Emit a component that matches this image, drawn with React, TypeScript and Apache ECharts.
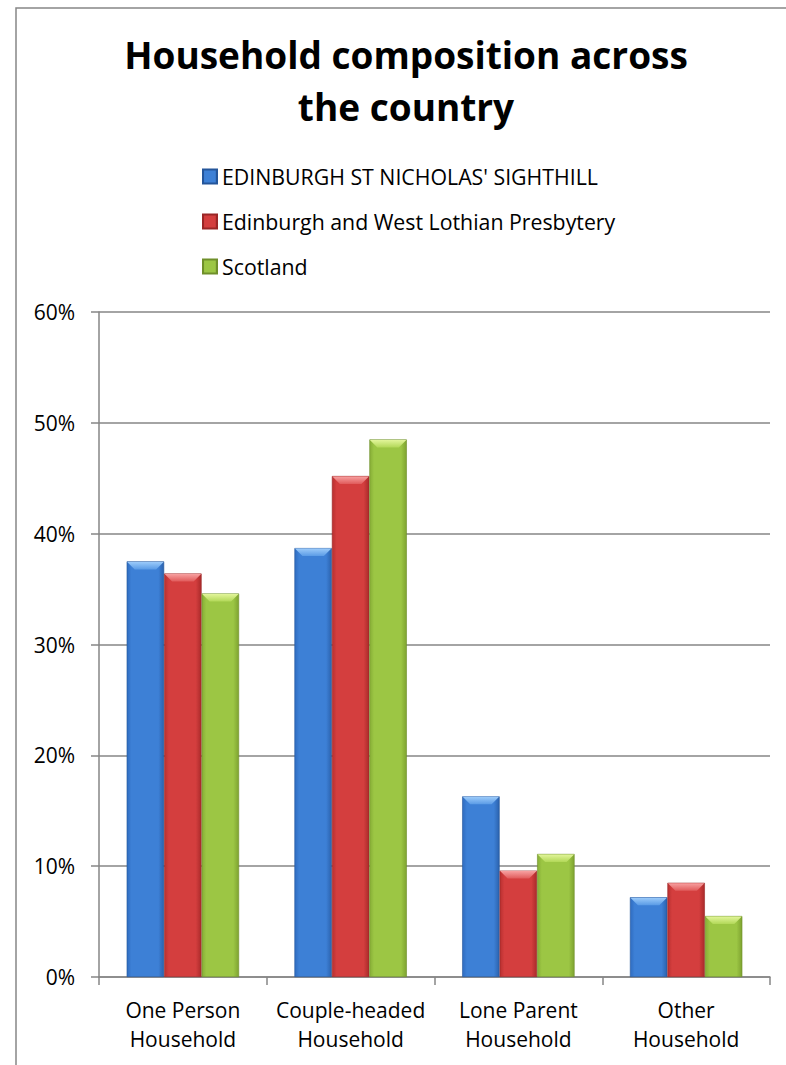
import React, { useEffect, useRef } from "react";
import * as echarts from "echarts";

const categories = ["One Person\nHousehold", "Couple-headed\nHousehold", "Lone Parent\nHousehold", "Other\nHousehold"];
const seriesNames = ["EDINBURGH ST NICHOLAS' SIGHTHILL", "Edinburgh and West Lothian Presbytery", "Scotland"];
const sighthill = [0.375, 0.387, 0.163, 0.072];
const presbytery = [0.364, 0.452, 0.096, 0.085];
const scotland = [0.346, 0.485, 0.111, 0.055];

const FONT = "'Open Sans', 'Noto Sans', sans-serif";
const CAT_GAP = 0.33;

const grad = (edge: string, mid: string, edge2: string) =>
  new echarts.graphic.LinearGradient(0, 0, 1, 0, [
    { offset: 0, color: edge },
    { offset: 0.12, color: mid },
    { offset: 0.85, color: mid },
    { offset: 1, color: edge2 },
  ]);

export default function App() {
  const ref = useRef<HTMLDivElement>(null);
  useEffect(() => {
    if (!ref.current) return;
    const chart = echarts.init(ref.current, null, { renderer: "svg" });
    const colors = [
      { fill: grad("#2f6cc0", "#3d80d6", "#2b62ad"), border: "#24559a", legend: "#3d80d6", top1: "#9ccbfa", top2: "#5a9be6" },
      { fill: grad("#b83030", "#d43e3e", "#a92a2a"), border: "#9a2626", legend: "#d43e3e", top1: "#f7a0a0", top2: "#e05a5a" },
      { fill: grad("#86ad36", "#9cc644", "#7ea330"), border: "#6f8f2a", legend: "#9cc644", top1: "#e2f59a", top2: "#b2d858" },
    ];
    const data = [sighthill, presbytery, scotland];

    const bevelSeries = data.map((vals, s) => ({
      type: "custom",
      silent: true,
      z: 5,
      data: vals.map((v, i) => [i, v]),
      encode: { x: 0, y: 1 },
      renderItem: (params: any, api: any) => {
        const idx = api.value(0);
        const val = api.value(1);
        const pt = api.coord([idx, val]);
        const band = api.size([1, 0])[0];
        const bw = (band * (1 - CAT_GAP)) / 3;
        const left = pt[0] - 1.5 * bw + s * bw;
        const right = left + bw;
        const y = pt[1];
        const b = 8;
        return {
          type: "polygon",
          shape: {
            points: [
              [left + 0.5, y + 0.5],
              [right - 0.5, y + 0.5],
              [right - b, y + b],
              [left + b, y + b],
            ],
          },
          style: {
            fill: new echarts.graphic.LinearGradient(0, 0, 0, 1, [
              { offset: 0, color: colors[s].top1 },
              { offset: 1, color: colors[s].top2 },
            ]),
          },
        };
      },
    }));

    chart.setOption({
      animation: false,
      textStyle: { fontFamily: FONT },
      title: {
        text: "Household composition across\nthe country",
        left: 401,
        top: 23,
        textAlign: "center",
        textStyle: { fontFamily: FONT, fontWeight: "bold", fontSize: 37, lineHeight: 52, color: "#000" },
      },
      legend: {
        orient: "vertical",
        left: 202,
        top: 164,
        padding: 0,
        itemWidth: 14,
        itemHeight: 14,
        itemGap: 20,
        icon: "rect",
        data: seriesNames,
        textStyle: { fontFamily: FONT, fontSize: 21.3, lineHeight: 25, color: "#000" },
      },
      graphic: [
        {
          type: "rect",
          shape: { x: 16, y: 8, width: 820, height: 1120 },
          style: { fill: "none", stroke: "#868686", lineWidth: 1.5 },
          silent: true,
        },
      ],
      grid: { left: 99, right: 16, top: 312, bottom: 88, containLabel: false },
      xAxis: {
        type: "category",
        data: categories,
        axisLine: { show: true, lineStyle: { color: "#868686", width: 1.5 } },
        axisTick: { show: true, length: 8, lineStyle: { color: "#868686", width: 1.5 } },
        axisLabel: { fontFamily: FONT, fontSize: 21, lineHeight: 29, color: "#000", margin: 18, interval: 0 },
      },
      yAxis: {
        type: "value",
        min: 0,
        max: 0.6,
        interval: 0.1,
        axisLine: { show: true, lineStyle: { color: "#868686", width: 1.5 } },
        axisTick: { show: true, length: 8, lineStyle: { color: "#868686", width: 1.5 } },
        splitLine: { show: true, lineStyle: { color: "#868686", width: 1.5 } },
        axisLabel: {
          fontFamily: FONT,
          fontSize: 21,
          color: "#000",
          margin: 24,
          formatter: (v: number) => Math.round(v * 100) + "%",
        },
      },
      series: [
        ...seriesNames.map((name, i) => ({
          name,
          type: "bar",
          data: data[i],
          barGap: "0%",
          barCategoryGap: CAT_GAP * 100 + "%",
          itemStyle: { color: colors[i].fill, borderColor: colors[i].border, borderWidth: 0.6 },
        })),
        ...bevelSeries,
      ],
      color: colors.map((c) => c.legend),
    });
    return () => chart.dispose();
  }, []);
  return (
    <div
      ref={ref}
      style={{ position: "fixed", left: 0, top: 0, width: 786, height: 1065, background: "#fff" }}
    />
  );
}
